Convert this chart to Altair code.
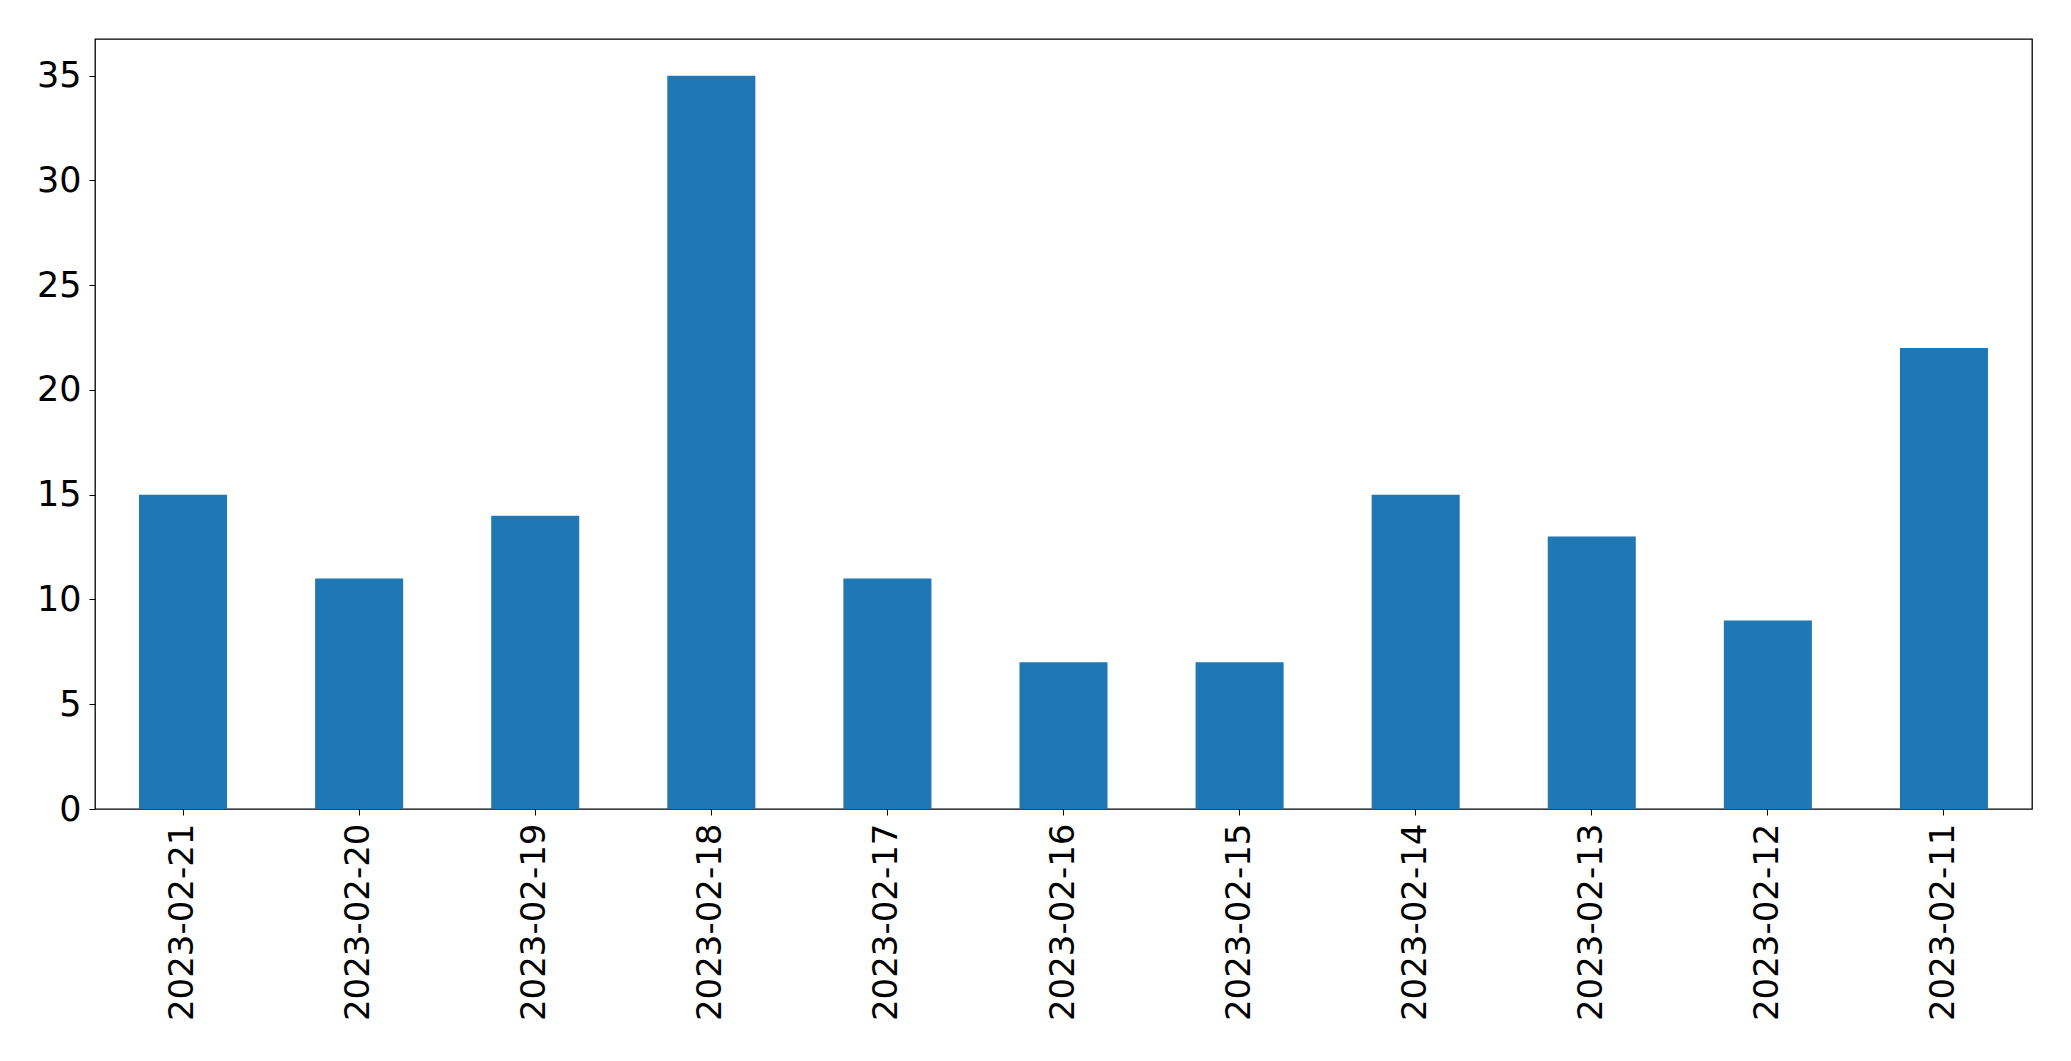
import altair as alt
import pandas as pd

dates = ["2023-02-21", "2023-02-20", "2023-02-19", "2023-02-18", "2023-02-17",
         "2023-02-16", "2023-02-15", "2023-02-14", "2023-02-13", "2023-02-12",
         "2023-02-11"]
counts = [15, 11, 14, 35, 11, 7, 7, 15, 13, 9, 22]
y_ticks = [0, 5, 10, 15, 20, 25, 30, 35]

df = pd.DataFrame({"date": dates, "count": counts})

chart = alt.Chart(df).mark_bar(color="#1f77b4").encode(
    x=alt.X("date:N", sort=None, title=None,
            scale=alt.Scale(paddingInner=0.5, paddingOuter=0.25),
            axis=alt.Axis(labelAngle=-90, labelAlign="right", labelBaseline="middle",
                          labelPadding=8, tickSize=6, tickColor="black",
                          domain=False, labelFontSize=34, labelColor="black",
                          labelFont="DejaVu Sans", grid=False, labelLimit=0)),
    y=alt.Y("count:Q", title=None,
            scale=alt.Scale(domain=[0, 36.75], nice=False, zero=True),
            axis=alt.Axis(values=y_ticks, tickSize=6, tickColor="black",
                          domain=False, labelPadding=8, labelFontSize=35,
                          labelColor="black", labelFont="DejaVu Sans", grid=False)),
).properties(
    width=1937,
    height=770,
    autosize=alt.AutoSizeParams(type="none"),
    padding={"left": 87, "top": 31, "right": 24, "bottom": 236},
).configure_view(
    stroke="black", strokeWidth=1.3
)

chart.save("out.html", embed_options={"renderer": "svg", "actions": False})
